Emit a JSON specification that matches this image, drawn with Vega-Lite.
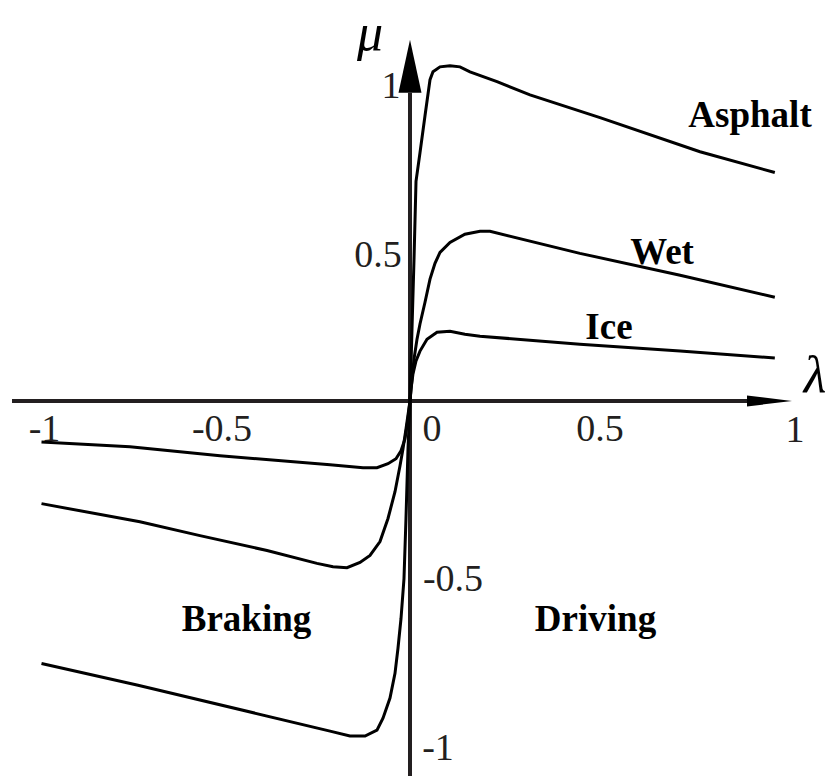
{
  "$schema": "https://vega.github.io/schema/vega-lite/v6.json",
  "width": 827,
  "height": 778,
  "autosize": {"type": "fit", "contains": "padding"},
  "padding": 0,
  "background": "white",
  "config": {"view": {"stroke": null}},
  "datasets": {
    "curves": [
      {"s": "asphalt", "i": 0, "l": -1.0, "m": -0.795},
      {"s": "asphalt", "i": 1, "l": -0.738, "m": -0.861},
      {"s": "asphalt", "i": 2, "l": -0.217, "m": -1.0},
      {"s": "asphalt", "i": 3, "l": -0.163, "m": -1.015},
      {"s": "asphalt", "i": 4, "l": -0.122, "m": -1.015},
      {"s": "asphalt", "i": 5, "l": -0.0896, "m": -0.997},
      {"s": "asphalt", "i": 6, "l": -0.0733, "m": -0.961},
      {"s": "asphalt", "i": 7, "l": -0.0543, "m": -0.9},
      {"s": "asphalt", "i": 8, "l": -0.0407, "m": -0.825},
      {"s": "asphalt", "i": 9, "l": -0.0326, "m": -0.749},
      {"s": "asphalt", "i": 10, "l": -0.0244, "m": -0.659},
      {"s": "asphalt", "i": 11, "l": -0.0163, "m": -0.538},
      {"s": "asphalt", "i": 12, "l": -0.0109, "m": -0.356},
      {"s": "asphalt", "i": 13, "l": -0.0054, "m": -0.145},
      {"s": "asphalt", "i": 14, "l": 0, "m": 0},
      {"s": "asphalt", "i": 15, "l": 0.0054, "m": 0.2175},
      {"s": "asphalt", "i": 16, "l": 0.0109, "m": 0.429},
      {"s": "asphalt", "i": 17, "l": 0.0163, "m": 0.665},
      {"s": "asphalt", "i": 18, "l": 0.0271, "m": 0.752},
      {"s": "asphalt", "i": 19, "l": 0.0407, "m": 0.864},
      {"s": "asphalt", "i": 20, "l": 0.0543, "m": 0.973},
      {"s": "asphalt", "i": 21, "l": 0.0624, "m": 0.997},
      {"s": "asphalt", "i": 22, "l": 0.0814, "m": 1.012},
      {"s": "asphalt", "i": 23, "l": 0.1085, "m": 1.015},
      {"s": "asphalt", "i": 24, "l": 0.1357, "m": 1.012},
      {"s": "asphalt", "i": 25, "l": 0.1628, "m": 0.997},
      {"s": "asphalt", "i": 26, "l": 0.2361, "m": 0.967},
      {"s": "asphalt", "i": 27, "l": 0.3256, "m": 0.927},
      {"s": "asphalt", "i": 28, "l": 0.5156, "m": 0.858},
      {"s": "asphalt", "i": 29, "l": 0.787, "m": 0.755},
      {"s": "asphalt", "i": 30, "l": 0.99, "m": 0.692},

      {"s": "wet", "i": 0, "l": -1.0, "m": -0.311},
      {"s": "wet", "i": 1, "l": -0.733, "m": -0.366},
      {"s": "wet", "i": 2, "l": -0.57, "m": -0.408},
      {"s": "wet", "i": 3, "l": -0.388, "m": -0.453},
      {"s": "wet", "i": 4, "l": -0.2524, "m": -0.492},
      {"s": "wet", "i": 5, "l": -0.209, "m": -0.502},
      {"s": "wet", "i": 6, "l": -0.171, "m": -0.505},
      {"s": "wet", "i": 7, "l": -0.1357, "m": -0.489},
      {"s": "wet", "i": 8, "l": -0.1085, "m": -0.468},
      {"s": "wet", "i": 9, "l": -0.0814, "m": -0.426},
      {"s": "wet", "i": 10, "l": -0.0597, "m": -0.356},
      {"s": "wet", "i": 11, "l": -0.0407, "m": -0.275},
      {"s": "wet", "i": 12, "l": -0.0271, "m": -0.196},
      {"s": "wet", "i": 13, "l": -0.019, "m": -0.145},
      {"s": "wet", "i": 14, "l": -0.0109, "m": -0.085},
      {"s": "wet", "i": 15, "l": 0, "m": 0},
      {"s": "wet", "i": 16, "l": 0.0054, "m": 0.066},
      {"s": "wet", "i": 17, "l": 0.0109, "m": 0.127},
      {"s": "wet", "i": 18, "l": 0.019, "m": 0.187},
      {"s": "wet", "i": 19, "l": 0.0271, "m": 0.233},
      {"s": "wet", "i": 20, "l": 0.0407, "m": 0.299},
      {"s": "wet", "i": 21, "l": 0.0543, "m": 0.369},
      {"s": "wet", "i": 22, "l": 0.0678, "m": 0.417},
      {"s": "wet", "i": 23, "l": 0.0814, "m": 0.45},
      {"s": "wet", "i": 24, "l": 0.1085, "m": 0.48},
      {"s": "wet", "i": 25, "l": 0.149, "m": 0.505},
      {"s": "wet", "i": 26, "l": 0.19, "m": 0.514},
      {"s": "wet", "i": 27, "l": 0.217, "m": 0.514},
      {"s": "wet", "i": 28, "l": 0.461, "m": 0.447},
      {"s": "wet", "i": 29, "l": 0.733, "m": 0.381},
      {"s": "wet", "i": 30, "l": 0.99, "m": 0.314},

      {"s": "ice", "i": 0, "l": -1.0, "m": -0.124},
      {"s": "ice", "i": 1, "l": -0.76, "m": -0.139},
      {"s": "ice", "i": 2, "l": -0.5156, "m": -0.166},
      {"s": "ice", "i": 3, "l": -0.217, "m": -0.193},
      {"s": "ice", "i": 4, "l": -0.1275, "m": -0.202},
      {"s": "ice", "i": 5, "l": -0.0896, "m": -0.202},
      {"s": "ice", "i": 6, "l": -0.0597, "m": -0.19},
      {"s": "ice", "i": 7, "l": -0.038, "m": -0.175},
      {"s": "ice", "i": 8, "l": -0.0244, "m": -0.151},
      {"s": "ice", "i": 9, "l": -0.0136, "m": -0.115},
      {"s": "ice", "i": 10, "l": -0.0054, "m": -0.054},
      {"s": "ice", "i": 11, "l": 0, "m": 0},
      {"s": "ice", "i": 12, "l": 0.0027, "m": 0.036},
      {"s": "ice", "i": 13, "l": 0.0081, "m": 0.082},
      {"s": "ice", "i": 14, "l": 0.0163, "m": 0.121},
      {"s": "ice", "i": 15, "l": 0.0271, "m": 0.151},
      {"s": "ice", "i": 16, "l": 0.0461, "m": 0.187},
      {"s": "ice", "i": 17, "l": 0.0733, "m": 0.208},
      {"s": "ice", "i": 18, "l": 0.1085, "m": 0.211},
      {"s": "ice", "i": 19, "l": 0.149, "m": 0.202},
      {"s": "ice", "i": 20, "l": 0.19, "m": 0.196},
      {"s": "ice", "i": 21, "l": 0.461, "m": 0.172},
      {"s": "ice", "i": 22, "l": 0.733, "m": 0.151},
      {"s": "ice", "i": 23, "l": 0.99, "m": 0.13}
    ],
    "axes": [
      {"a": "x", "l": -1.08, "l2": 0.925, "m": 0, "m2": 0},
      {"a": "y", "l": 0, "l2": 0, "m": -1.136, "m2": 0.9335}
    ],
    "arrows": [
      {"a": "x", "l": 0.9756, "m": 0},
      {"a": "y", "l": 0, "m": 1.0136}
    ],
    "labels": [
      {"t": "Asphalt", "l": 0.9227, "m": 0.8308, "k": "bold"},
      {"t": "Wet", "l": 0.6839, "m": 0.4139, "k": "bold"},
      {"t": "Ice", "l": 0.54, "m": 0.1873, "k": "bold"},
      {"t": "Braking", "l": -0.4437, "m": -0.6979, "k": "bold"},
      {"t": "Driving", "l": 0.5034, "m": -0.6979, "k": "bold"},
      {"t": "1", "l": -0.0516, "m": 0.9184, "k": "tick"},
      {"t": "0.5", "l": -0.0868, "m": 0.4048, "k": "tick"},
      {"t": "-0.5", "l": 0.1167, "m": -0.577, "k": "tick"},
      {"t": "-1", "l": 0.076, "m": -1.0876, "k": "tick"},
      {"t": "-1", "l": -0.9919, "m": -0.1208, "k": "tick"},
      {"t": "-0.5", "l": -0.5102, "m": -0.1208, "k": "tick"},
      {"t": "0", "l": 0.0597, "m": -0.1208, "k": "tick"},
      {"t": "0.5", "l": 0.5156, "m": -0.1208, "k": "tick"},
      {"t": "1", "l": 1.0448, "m": -0.1239, "k": "tick"}
    ],
    "greek": [
      {"t": "μ", "l": -0.1085, "m": 1.0634},
      {"t": "λ", "l": 1.099, "m": 0.0272}
    ]
  },
  "layer": [
    {
      "data": {"name": "axes"},
      "mark": {"type": "rule", "color": "#231f20", "strokeWidth": 4, "strokeCap": "butt"},
      "encoding": {
        "x": {"field": "l", "type": "quantitative", "scale": {"domain": [-1.1126, 1.1316], "nice": false, "zero": false}, "axis": null},
        "x2": {"field": "l2"},
        "y": {"field": "m", "type": "quantitative", "scale": {"domain": [-1.136, 1.2145], "nice": false, "zero": false}, "axis": null},
        "y2": {"field": "m2"}
      }
    },
    {
      "data": {"name": "arrows"},
      "transform": [{"filter": "datum.a === 'x'"}],
      "mark": {"type": "point", "filled": true, "color": "#000000", "opacity": 1, "size": 2025, "shape": "M -1 -0.244 L 1 0 L -1 0.244 Z", "strokeWidth": 0},
      "encoding": {
        "x": {"field": "l", "type": "quantitative"},
        "y": {"field": "m", "type": "quantitative"}
      }
    },
    {
      "data": {"name": "arrows"},
      "transform": [{"filter": "datum.a === 'y'"}],
      "mark": {"type": "point", "filled": true, "color": "#000000", "opacity": 1, "size": 2809, "shape": "M -0.434 1 L 0 -1 L 0.434 1 Z", "strokeWidth": 0},
      "encoding": {
        "x": {"field": "l", "type": "quantitative"},
        "y": {"field": "m", "type": "quantitative"}
      }
    },
    {
      "data": {"name": "curves"},
      "mark": {"type": "line", "color": "#000000", "strokeWidth": 3, "interpolate": "linear"},
      "encoding": {
        "x": {"field": "l", "type": "quantitative"},
        "y": {"field": "m", "type": "quantitative"},
        "detail": {"field": "s", "type": "nominal"},
        "order": {"field": "i", "type": "quantitative"}
      }
    },
    {
      "data": {"name": "labels"},
      "transform": [{"filter": "datum.k === 'bold'"}],
      "mark": {"type": "text", "font": "Liberation Serif", "fontWeight": "bold", "fontSize": 37, "align": "center", "baseline": "alphabetic", "color": "#000000"},
      "encoding": {
        "x": {"field": "l", "type": "quantitative"},
        "y": {"field": "m", "type": "quantitative"},
        "text": {"field": "t", "type": "nominal"}
      }
    },
    {
      "data": {"name": "labels"},
      "transform": [{"filter": "datum.k === 'tick'"}],
      "mark": {"type": "text", "font": "Liberation Serif", "fontSize": 38, "align": "center", "baseline": "alphabetic", "color": "#231f20"},
      "encoding": {
        "x": {"field": "l", "type": "quantitative"},
        "y": {"field": "m", "type": "quantitative"},
        "text": {"field": "t", "type": "nominal"}
      }
    },
    {
      "data": {"name": "greek"},
      "mark": {"type": "text", "font": "Liberation Serif", "fontStyle": "italic", "fontSize": 52, "align": "center", "baseline": "alphabetic", "color": "#000000"},
      "encoding": {
        "x": {"field": "l", "type": "quantitative"},
        "y": {"field": "m", "type": "quantitative"},
        "text": {"field": "t", "type": "nominal"}
      }
    }
  ]
}
